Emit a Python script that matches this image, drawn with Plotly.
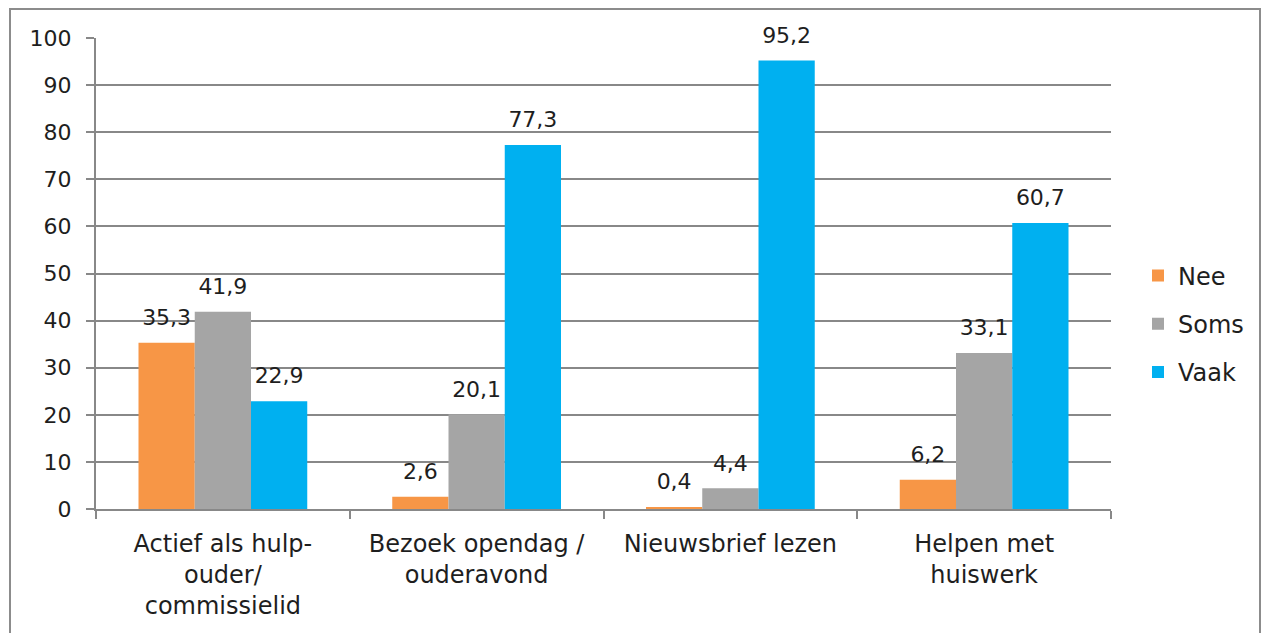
import plotly.graph_objects as go

categories = ["Actief als hulp-<br>ouder/<br>commissielid", "Bezoek opendag /<br>ouderavond",
              "Nieuwsbrief lezen", "Helpen met<br>huiswerk"]
series_names = ["Nee", "Soms", "Vaak"]
nee = [35.3, 2.6, 0.4, 6.2]
soms = [41.9, 20.1, 4.4, 33.1]
vaak = [22.9, 77.3, 95.2, 60.7]
colors = ["#F79646", "#A5A5A5", "#00B0F0"]
y_ticks = [0, 10, 20, 30, 40, 50, 60, 70, 80, 90, 100]

FONT = "DejaVu Sans"
TXT = "#1E1E1E"
fig = go.Figure()
for name, vals, col in zip(series_names, [nee, soms, vaak], colors):
    fig.add_trace(go.Bar(
        x=categories, y=vals, name=name, legendgroup=name,
        marker=dict(color=col, line=dict(width=0)),
        hoverinfo="skip",
    ))
for name, vals in zip(series_names, [nee, soms, vaak]):
    fig.add_trace(go.Scatter(
        x=categories, y=vals, name=name, legendgroup=name, showlegend=False,
        mode="markers+text", marker=dict(size=18, opacity=0),
        text=[f"{v:.1f}".replace(".", ",") for v in vals],
        textposition="top center", cliponaxis=False,
        textfont=dict(family=FONT, size=22, color=TXT), hoverinfo="skip",
    ))

OFF = 8  # page body margin
W, H = 1269 - 2 * OFF, 633 - OFF
L, T = 96 - OFF, 38 - OFF
R = W - (1111 - OFF)
B = H - (509 - OFF)
pw, ph = W - L - R, H - T - B
def px(x): return (x - OFF - L) / pw
def py(y): return (H - B - (y - OFF)) / ph

fig.update_layout(
    width=W, height=H, margin=dict(l=L, r=R, t=T, b=B, autoexpand=False),
    barmode="group", bargap=0.335, bargroupgap=0,
    scattermode="group", scattergap=0.335,
    plot_bgcolor="white", paper_bgcolor="white",
    font=dict(family=FONT, size=21, color=TXT),
    legend=dict(x=px(1138), y=py(324), xanchor="left", yanchor="middle",
                font=dict(family=FONT, size=24, color=TXT),
                traceorder="grouped", tracegroupgap=14, itemwidth=30),
    xaxis=dict(showline=True, linecolor="#888888", linewidth=2, ticks="outside",
               tickson="boundaries", ticklen=8, tickcolor="#888888", tickwidth=2,
               ticklabelstandoff=12, automargin=False,
               showgrid=False, tickfont=dict(family=FONT, size=24, color=TXT)),
    yaxis=dict(range=[0, 100], tickvals=y_ticks, showline=True, linecolor="#888888", linewidth=2,
               ticks="outside", ticklen=8, tickcolor="#888888", tickwidth=2,
               ticklabelstandoff=10, automargin=False,
               showgrid=True, gridcolor="#888888", gridwidth=2, zeroline=False,
               tickfont=dict(family=FONT, size=22, color=TXT)),
    shapes=[dict(type="rect", xref="paper", yref="paper",
                 x0=px(10), x1=px(1260), y0=py(660), y1=py(9),
                 line=dict(color="#8C8C8C", width=2), fillcolor="rgba(0,0,0,0)", layer="below")],
)
fig.write_html("out.html")
